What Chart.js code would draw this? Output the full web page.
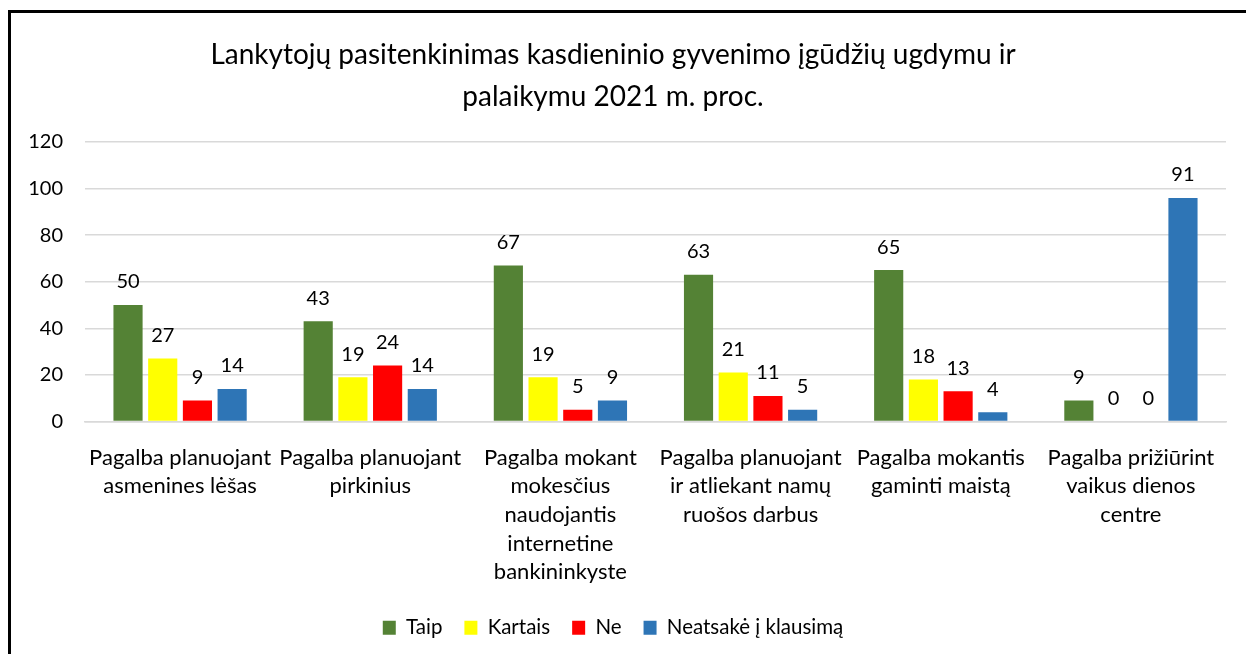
<!DOCTYPE html>
<html>
<head>
<meta charset="utf-8">
<script src="https://cdn.jsdelivr.net/npm/chart.js@4"></script>
<style>
  html, body { margin:0; padding:0; background:#fff; overflow:hidden; }
  #wrap { position:relative; width:1246px; height:654px; }
  #frame { position:absolute; left:8px; top:10px; width:1260px; height:680px; border:3px solid #000; box-sizing:border-box; }
  canvas { position:absolute; left:0; top:0; }
</style>
</head>
<body>
<div id="wrap">
  <div id="frame"></div>
  <canvas id="c" width="1246" height="654"></canvas>
</div>
<script>
const categories = [
  ["Pagalba planuojant", "asmenines lėšas"],
  ["Pagalba planuojant", "pirkinius"],
  ["Pagalba mokant", "mokesčius", "naudojantis", "internetine", "bankininkyste"],
  ["Pagalba planuojant", "ir atliekant namų", "ruošos darbus"],
  ["Pagalba mokantis", "gaminti maistą"],
  ["Pagalba prižiūrint", "vaikus dienos", "centre"]
];
const seriesNames = ["Taip", "Kartais", "Ne", "Neatsakė į klausimą"];
// bar heights as drawn in the picture
const taip = [50, 43, 67, 63, 65, 9];
const kartais = [27, 19, 19, 21, 18, 0];
const ne = [9, 24, 5, 11, 13, 0];
const neatsake = [14, 14, 9, 5, 4, 96];
// value labels as printed in the picture
const taipLabels = [50, 43, 67, 63, 65, 9];
const kartaisLabels = [27, 19, 19, 21, 18, 0];
const neLabels = [9, 24, 5, 11, 13, 0];
const neatsakeLabels = [14, 14, 9, 5, 4, 91];
const yTicks = [0, 20, 40, 60, 80, 100, 120];
const titleLines = ["Lankytojų pasitenkinimas kasdieninio gyvenimo įgūdžių ugdymu ir", "palaikymu 2021 m. proc."];

const FONT = "Lato, 'Open Sans', sans-serif";
const colors = ["#548235", "#FFFF00", "#FF0000", "#2E75B6"];
const allValues = [taip, kartais, ne, neatsake];
const allLabels = [taipLabels, kartaisLabels, neLabels, neatsakeLabels];

const valueLabelPlugin = {
  id: "valueLabels",
  afterDatasetsDraw(chart) {
    const ctx = chart.ctx;
    ctx.save();
    ctx.font = "20px " + FONT;
    ctx.fillStyle = "#000";
    ctx.textAlign = "center";
    ctx.textBaseline = "middle";
    chart.data.datasets.forEach((ds, i) => {
      const meta = chart.getDatasetMeta(i);
      meta.data.forEach((el, j) => {
        ctx.fillText(String(allLabels[i][j]), el.x, el.y - 23);
      });
    });
    ctx.restore();
  }
};

new Chart(document.getElementById("c"), {
  type: "bar",
  data: {
    labels: categories,
    datasets: seriesNames.map((n, i) => ({
      label: n,
      data: allValues[i],
      backgroundColor: colors[i],
      borderWidth: 0,
      categoryPercentage: 0.73,
      barPercentage: 0.84
    }))
  },
  options: {
    responsive: false,
    animation: false,
    devicePixelRatio: 1,
    layout: { padding: { top: 14, right: 20, bottom: 6, left: 0 } },
    plugins: {
      tooltip: { enabled: false },
      title: {
        display: true,
        text: titleLines,
        color: "#000",
        font: { family: FONT, size: 28, weight: "normal", lineHeight: 1.5 },
        padding: { top: 20, bottom: 24 }
      },
      legend: {
        position: "bottom",
        labels: {
          color: "#000",
          font: { family: FONT, size: 20.5 },
          boxWidth: 13,
          boxHeight: 14,
          padding: 22
        }
      }
    },
    scales: {
      x: {
        grid: { display: false, drawTicks: false },
        border: { display: true, color: "#d9d9d9", width: 1.5 },
        ticks: {
          color: "#000",
          font: { family: FONT, size: 22, lineHeight: 1.3 },
          padding: 22,
          autoSkip: false,
          maxRotation: 0,
          minRotation: 0
        },
        afterFit(scale) { scale.height = 174; }
      },
      y: {
        min: 0,
        max: 120,
        afterBuildTicks(scale) { scale.ticks = yTicks.map(v => ({ value: v })); },
        grid: { color: "#d9d9d9", lineWidth: 1.5, drawTicks: false },
        border: { display: false },
        ticks: {
          color: "#000",
          font: { family: FONT, size: 20 },
          padding: 22
        },
        afterFit(scale) { scale.width = 85; }
      }
    }
  },
  plugins: [valueLabelPlugin]
});
</script>
</body>
</html>
